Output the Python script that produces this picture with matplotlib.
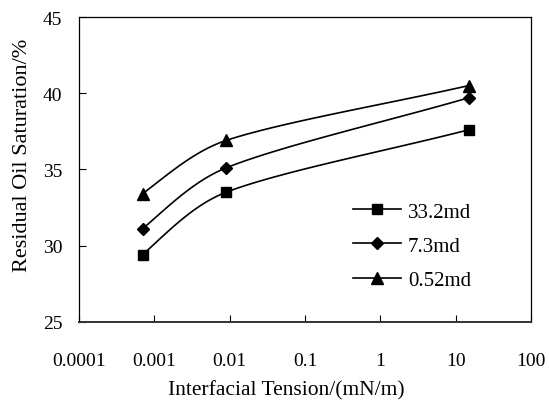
import numpy as np
import matplotlib
matplotlib.use("Agg")
from matplotlib import pyplot as plt

# data
ift = [0.0007, 0.009, 15.0]
sat_332 = [29.4, 33.5, 37.6]
sat_73 = [31.1, 35.1, 39.7]
sat_052 = [33.4, 36.9, 40.5]
series_names = ["33.2md", "7.3md", "0.52md"]
markers = ["s", "D", "^"]
marker_sizes = [7.5, 6.5, 8]

plt.rcParams["font.family"] = ["Liberation Serif", "DejaVu Serif"]
plt.rcParams["font.size"] = 14


def unit(v):
    return v / np.linalg.norm(v)


def smooth(xs, ys, sx, sy, n=40):
    """ Smoothed line through the points, worked out in scaled log-x space """
    pts = np.column_stack([np.log10(xs) * sx, np.array(ys) * sy])
    k = len(pts)
    tang = [None] * k
    span = [None] * k
    for i in range(1, k - 1):
        tang[i] = unit(pts[i + 1] - pts[i - 1])
        span[i] = np.linalg.norm(pts[i + 1] - pts[i - 1]) / 6
    # start: mostly along the first chord, tilted toward the reflected tangent
    c = unit(pts[1] - pts[0])
    refl = unit(2 * np.dot(c, tang[1]) * c - tang[1])
    tang[0] = unit(2 * c + refl)
    # end: along the last chord
    tang[-1] = unit(pts[-1] - pts[-2])

    out = [pts[0]]
    t = np.linspace(0, 1, n)[1:, None]
    for i in range(k - 1):
        p0, p3 = pts[i], pts[i + 1]
        d = np.linalg.norm(p3 - p0) / 3
        d0 = d if span[i] is None else min(span[i], d)
        d1 = d if span[i + 1] is None else min(span[i + 1], d)
        p1 = p0 + tang[i] * d0
        p2 = p3 - tang[i + 1] * d1
        seg = (1 - t) ** 3 * p0 + 3 * (1 - t) ** 2 * t * p1 + 3 * (1 - t) * t ** 2 * p2 + t ** 3 * p3
        out.extend(seg)
    out = np.array(out)
    return 10 ** (out[:, 0] / sx), out[:, 1] / sy


fig = plt.figure(figsize=(5.49, 4.14), dpi=100)
ax = fig.add_axes([0.1439, 0.2205, 0.8231, 0.7360])

for ys, name, m, ms in zip([sat_332, sat_73, sat_052], series_names, markers, marker_sizes):
    cx, cy = smooth(ift, ys, 75.3, 15.25)
    ax.plot(cx, cy, color="black", lw=1.2)
    ax.plot(ift, ys, linestyle="none", marker=m, color="black", ms=ms)
    ax.plot([], [], color="black", lw=1.2, marker=m, ms=ms, label=name)

ax.set_xscale("log")
ax.set_xlim(0.0001, 100)
ax.set_ylim(25, 45)
ax.set_yticks([25, 30, 35, 40, 45])
ax.set_xticks([0.0001, 0.001, 0.01, 0.1, 1, 10, 100])
ax.set_xticklabels(["0.0001", "0.001", "0.01", "0.1", "1", "10", "100"])
ax.minorticks_off()
ax.tick_params(direction="in", length=5, width=0.8)
ax.tick_params(axis="x", pad=22)
ax.tick_params(axis="y", pad=12)

for s in ax.spines.values():
    s.set_linewidth(0.9)
ax.spines["bottom"].set_linewidth(1.4)
ax.spines["bottom"].set_color("#333333")

ax.set_xlabel("Interfacial Tension/(mN/m)", fontsize=15.5)
ax.xaxis.set_label_coords(0.459, -0.193)
ax.set_ylabel("Residual Oil Saturation/%", fontsize=16)
ax.yaxis.set_label_coords(-0.103, 0.548)

ax.legend(loc="upper left", bbox_to_anchor=(0.606, 0.393), frameon=False,
          fontsize=15, borderpad=0, borderaxespad=0,
          handlelength=2.3, handletextpad=0.35, labelspacing=0.7)

fig.savefig("out.png", dpi=100)
